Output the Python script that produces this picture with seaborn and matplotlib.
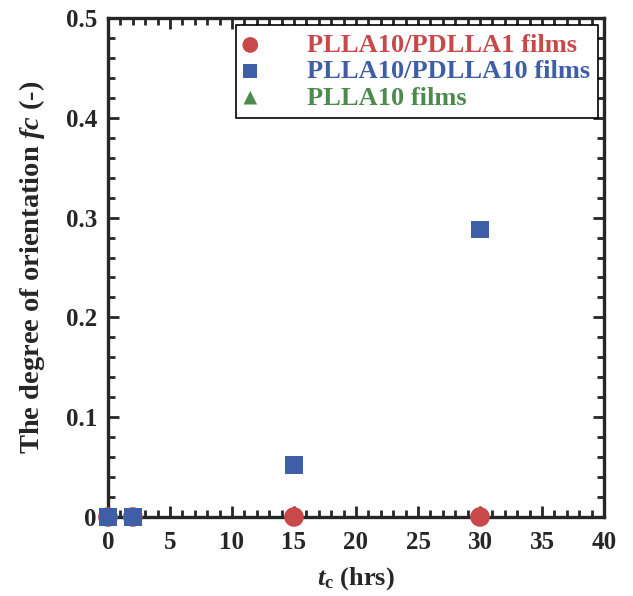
import pandas as pd
import seaborn as sns
import matplotlib.pyplot as plt
from matplotlib.ticker import MultipleLocator

series = ["PLLA10/PDLLA1 films", "PLLA10/PDLLA10 films", "PLLA10 films"]
x_pdlla1 = [0, 2, 15, 30]
y_pdlla1 = [0, 0, 0, 0]
x_pdlla10 = [0, 2, 15, 30]
y_pdlla10 = [0, 0, 0.052, 0.288]
x_plla = [0, 2]
y_plla = [0, 0]

rows = []
for name, xs, ys in [(series[0], x_pdlla1, y_pdlla1),
                     (series[1], x_pdlla10, y_pdlla10),
                     (series[2], x_plla, y_plla)]:
    for x, y in zip(xs, ys):
        rows.append((name, x, y))
df = pd.DataFrame(rows, columns=["sample", "tc", "fc"])

sns.set_style("ticks")
plt.rcParams["font.family"] = ["Liberation Serif", "DejaVu Serif"]
plt.rcParams["font.weight"] = "bold"
plt.rcParams["mathtext.fontset"] = "custom"
plt.rcParams["mathtext.rm"] = "Liberation Serif:bold"
plt.rcParams["mathtext.it"] = "Liberation Serif:italic:bold"

colors = {series[0]: "#c9484a", series[1]: "#3f5ea8", series[2]: "#4e8a4e"}
markers = {series[0]: "o", series[1]: "s", series[2]: "^"}
sizes = {series[0]: 200, series[1]: 160, series[2]: 150}

fig = plt.figure(figsize=(6.33, 5.96), dpi=100)
ax = fig.add_axes([0.1706, 0.1326, 0.7836, 0.8372])

# green hidden underneath, red then blue on top
for name, z in [(series[2], 3), (series[0], 4), (series[1], 5)]:
    sub = df[df["sample"] == name]
    sns.scatterplot(data=sub, x="tc", y="fc", ax=ax, color=colors[name],
                    marker=markers[name], s=sizes[name], edgecolor="none",
                    label=name, clip_on=False, zorder=z)

ax.set_xlim(0, 40)
ax.set_ylim(0, 0.5)
ax.xaxis.set_major_locator(MultipleLocator(5))
ax.xaxis.set_minor_locator(MultipleLocator(1))
ax.yaxis.set_minor_locator(MultipleLocator(0.02))
ax.set_yticks([0, 0.1, 0.2, 0.3, 0.4, 0.5], ["0", "0.1", "0.2", "0.3", "0.4", "0.5"])
ax.tick_params(which="both", direction="in", top=True, right=True, width=2, labelsize=18)
ax.tick_params(which="major", length=8, pad=8)
ax.tick_params(axis="x", which="major", pad=10)
ax.tick_params(which="minor", length=5)
for s in ax.spines.values():
    s.set_linewidth(2.4)

ax.set_xlabel(r"$\mathit{t}_\mathrm{c}$ (hrs)", fontsize=19, fontweight="bold", labelpad=8)
ax.set_ylabel(r"The degree of orientation $\mathit{fc}$ (-)", fontsize=20.5, fontweight="bold", labelpad=13)

handles, labels = ax.get_legend_handles_labels()
order = [labels.index(n) for n in series]
leg = ax.legend([handles[i] for i in order], [labels[i] for i in order],
                loc="upper right", bbox_to_anchor=(0.988, 0.985), fontsize=19,
                frameon=True, fancybox=False, edgecolor="black", framealpha=1,
                handlelength=0.5, handletextpad=1.9, labelspacing=0.11,
                borderpad=0.3, borderaxespad=0, markerscale=0.8)
leg.get_frame().set_linewidth(1.2)
for t, n in zip(leg.get_texts(), series):
    t.set_color(colors[n])
    t.set_fontweight("bold")

plt.savefig("out.png", dpi=100)
